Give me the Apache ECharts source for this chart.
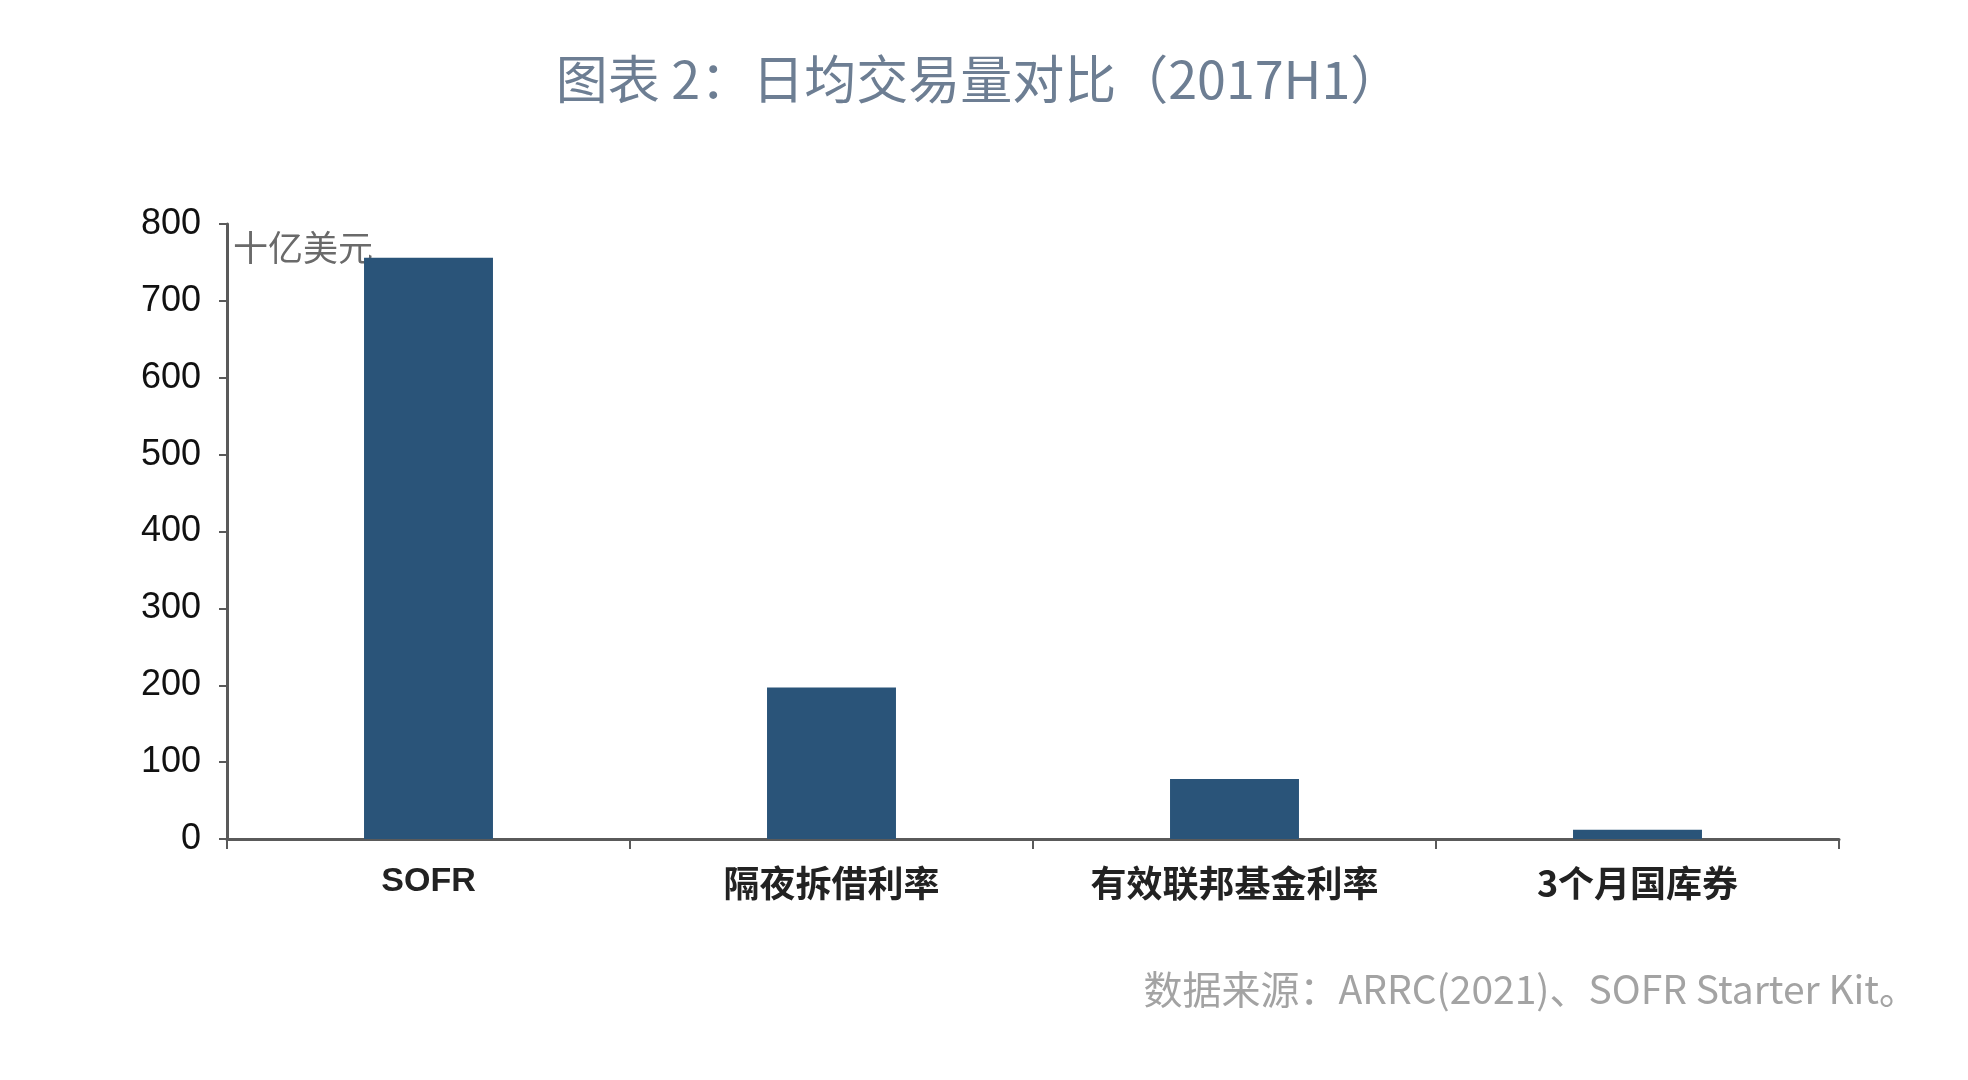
<!DOCTYPE html>
<html>
<head>
<meta charset="utf-8">
<title>日均交易量对比</title>
<script src="https://cdn.jsdelivr.net/npm/echarts@6/dist/echarts.min.js"></script>
<style>
	html, body { margin: 0; padding: 0; background: #ffffff; }
	#chart { width: 1968px; height: 1080px; }
</style>
</head>
<body>
<div id="chart"></div>
<script>
var categories = ['SOFR', '隔夜拆借利率', '有效联邦基金利率', '3个月国库券'];
var volumes = [756, 197, 78, 12];
var yTicks = [0, 100, 200, 300, 400, 500, 600, 700, 800];

var volumeChart = echarts.init(document.getElementById('chart'));

var volumeChartOptions = {
	animation: false,
	title: {
		text: '图表 2：日均交易量对比（2017H1）',
		left: 974,
		top: 48,
		textAlign: 'center',
		textStyle: {
			fontFamily: 'Noto Sans CJK SC',
			fontSize: 52,
			fontWeight: 'normal',
			color: '#6d7e93'
		}
	},
	graphic: [
		{
			type: 'text',
			right: 50,
			top: 970,
			style: {
				text: '数据来源：ARRC(2021)、SOFR Starter Kit。',
				fontFamily: 'Noto Sans CJK SC',
				fontSize: 39,
				fill: '#a3a3a3'
			}
		}
	],
	grid: {
		left: 227,
		right: 129,
		top: 224,
		bottom: 241
	},
	xAxis: {
		type: 'category',
		data: categories,
		boundaryGap: true,
		axisLine: {
			lineStyle: {color: '#5a5a5a', width: 3}
		},
		axisTick: {
			show: true,
			length: 10,
			lineStyle: {color: '#5a5a5a', width: 2}
		},
		axisLabel: {
			margin: 26,
			color: '#222222',
			formatter: function (value) {
				return /^[A-Z]+$/.test(value) ? '{en|' + value + '}' : '{cn|' + value + '}';
			},
			rich: {
				en: {
					fontFamily: 'Liberation Sans, sans-serif',
					fontSize: 34,
					fontWeight: 'bold',
					color: '#222222'
				},
				cn: {
					fontFamily: 'Noto Sans CJK SC',
					fontSize: 36,
					fontWeight: 'bold',
					color: '#222222'
				}
			}
		}
	},
	yAxis: {
		type: 'value',
		min: yTicks[0],
		max: yTicks[yTicks.length - 1],
		interval: yTicks[1] - yTicks[0],
		name: '十亿美元',
		nameLocation: 'end',
		nameGap: -24,
		nameTextStyle: {
			align: 'left',
			verticalAlign: 'middle',
			padding: [0, 0, 0, 6],
			fontFamily: 'Noto Sans CJK SC',
			fontSize: 35,
			color: '#6a6a6a'
		},
		splitLine: {show: false},
		axisLine: {
			show: true,
			lineStyle: {color: '#5a5a5a', width: 3}
		},
		axisTick: {
			show: true,
			length: 8,
			lineStyle: {color: '#5a5a5a', width: 2}
		},
		axisLabel: {
			margin: 26,
			fontFamily: 'Liberation Sans, sans-serif',
			fontSize: 36,
			color: '#111111'
		}
	},
	series: [
		{
			type: 'bar',
			data: volumes,
			barWidth: '32%',
			itemStyle: {color: '#2a5479'}
		}
	]
};

volumeChart.setOption(volumeChartOptions);
</script>
</body>
</html>
